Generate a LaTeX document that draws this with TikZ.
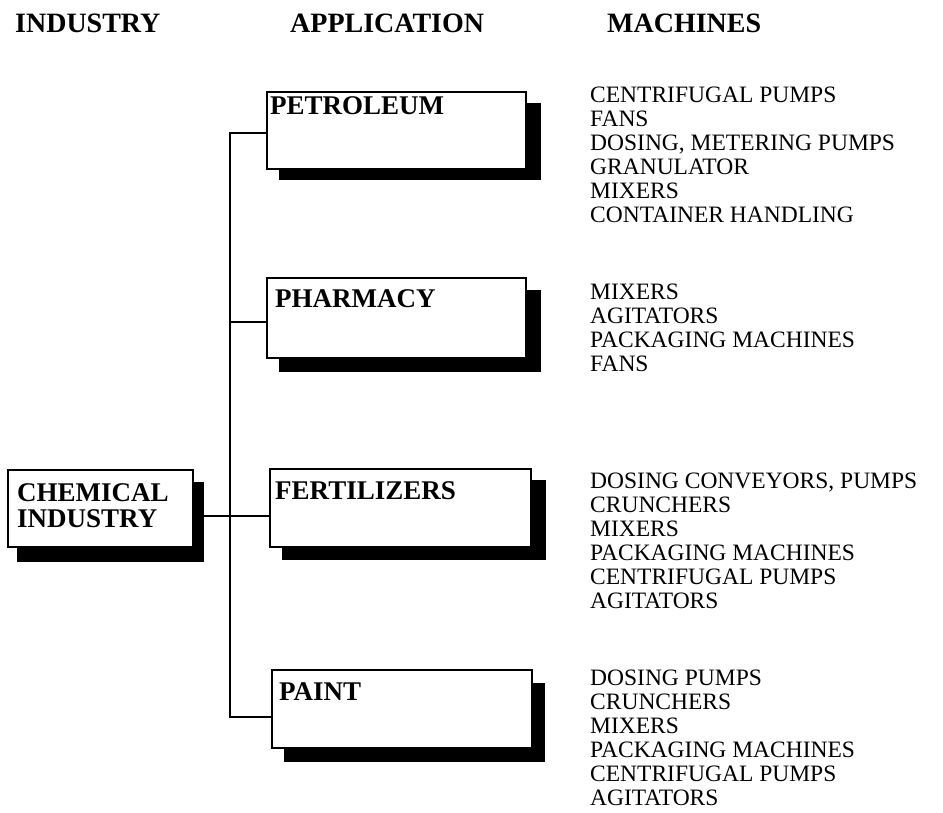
\documentclass[tikz,border=0pt]{standalone}
\usepackage{fontspec}
\setmainfont{Liberation Serif}
\begin{document}
\begin{tikzpicture}[x=1pt,y=-1pt,
  box/.style={draw=black, line width=2pt, fill=white, inner sep=0pt, outer sep=0pt, anchor=north west},
  shadowbox/.style={fill=black, draw=none, inner sep=0pt, outer sep=0pt, anchor=north west},
  head/.style={font=\bfseries\fontsize{28}{30}\selectfont, anchor=base west, inner sep=0pt},
  lab/.style={font=\bfseries\fontsize{27}{26}\selectfont, anchor=base west, inner sep=0pt, align=left},
  mach/.style={font=\fontsize{23.5}{24}\selectfont, anchor=base west, inner sep=0pt, align=left},
  conn/.style={line width=2pt, line join=miter}]
\useasboundingbox (0,0) rectangle (943,812);

% headers
\node[head] (h1) at (15,32) {INDUSTRY};
\node[head] (h2) at (290,32) {APPLICATION};
\node[head] (h3) at (607,32) {MACHINES};

% shadows
\node[shadowbox, minimum width=187pt, minimum height=80pt] (chemsh) at (17,482) {};
\node[shadowbox, minimum width=262pt, minimum height=77pt] (petrosh) at (279,103) {};
\node[shadowbox, minimum width=262pt, minimum height=82pt] (pharmsh) at (279,290) {};
\node[shadowbox, minimum width=264pt, minimum height=80pt] (fertsh) at (282,480) {};
\node[shadowbox, minimum width=261pt, minimum height=79pt] (paintsh) at (284,683) {};

% boxes
\node[box, minimum width=185pt, minimum height=77pt] (chem) at (8,470) {};
\node[box, minimum width=259pt, minimum height=77pt] (petro) at (267,92) {};
\node[box, minimum width=259pt, minimum height=80pt] (pharm) at (267,278) {};
\node[box, minimum width=261pt, minimum height=78pt] (fert) at (270,469) {};
\node[box, minimum width=260pt, minimum height=78pt] (paint) at (272,670) {};

% connectors
\coordinate (sptop) at (230,133);
\coordinate (sp2) at (230,322);
\coordinate (sp3) at (230,516);
\coordinate (spbot) at (230,717);
\draw[conn] (sptop -| petro.west) -- (sptop) -- (spbot) -- (spbot -| paint.west);
\draw[conn] (sp2) -- (sp2 -| pharm.west);
\draw[conn] (sp3 -| chemsh.east) -- (sp3 -| fert.west);

% labels (anchor = baseline of last line)
\node[lab] (chemlab) at (17,527) {CHEMICAL\\INDUSTRY};
\node[lab] (petrolab) at (270,114) {PETROLEUM};
\node[lab] (pharmlab) at (275,307) {PHARMACY};
\node[lab] (fertlab) at (275,499) {FERTILIZERS};
\node[lab] (paintlab) at (279,700) {PAINT};

% machines (anchor = baseline of last line)
\node[mach] (m1) at (590,222) {CENTRIFUGAL PUMPS\\FANS\\DOSING, METERING PUMPS\\GRANULATOR\\MIXERS\\CONTAINER HANDLING};
\node[mach] (m2) at (590,371) {MIXERS\\AGITATORS\\PACKAGING MACHINES\\FANS};
\node[mach] (m3) at (590,608) {DOSING CONVEYORS, PUMPS\\CRUNCHERS\\MIXERS\\PACKAGING MACHINES\\CENTRIFUGAL PUMPS\\AGITATORS};
\node[mach] (m4) at (590,805) {DOSING PUMPS\\CRUNCHERS\\MIXERS\\PACKAGING MACHINES\\CENTRIFUGAL PUMPS\\AGITATORS};
\end{tikzpicture}
\end{document}
